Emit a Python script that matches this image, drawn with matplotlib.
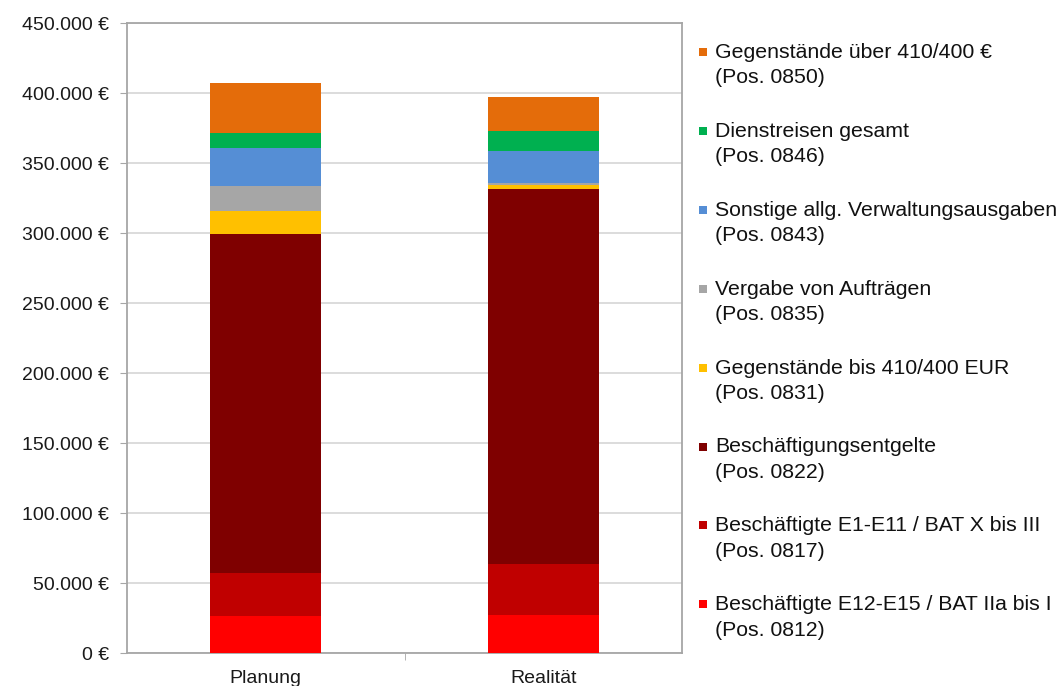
import matplotlib
matplotlib.use("Agg")
import matplotlib.pyplot as plt
from matplotlib.patches import Rectangle
from matplotlib.ticker import FuncFormatter, FixedLocator
import numpy as np

plt.rcParams['font.family'] = ['Liberation Sans', 'DejaVu Sans']

categories = ["Planung", "Realität"]

# cost positions, stacked bottom to top
pos_0812 = [26300, 27500]
pos_0817 = [31000, 36400]
pos_0822 = [241800, 267200]
pos_0831 = [16800, 3500]
pos_0835 = [18000, 1300]
pos_0843 = [26700, 23000]
pos_0846 = [11000, 13800]
pos_0850 = [35700, 24600]

series = [
    ("Beschäftigte E12-E15 / BAT IIa bis I\n(Pos. 0812)", pos_0812, "#FF0000"),
    ("Beschäftigte E1-E11 / BAT X bis III\n(Pos. 0817)", pos_0817, "#C00000"),
    ("Beschäftigungsentgelte\n(Pos. 0822)", pos_0822, "#7F0000"),
    ("Gegenstände bis 410/400 EUR\n(Pos. 0831)", pos_0831, "#FFC000"),
    ("Vergabe von Aufträgen\n(Pos. 0835)", pos_0835, "#A6A6A6"),
    ("Sonstige allg. Verwaltungsausgaben\n(Pos. 0843)", pos_0843, "#558ED5"),
    ("Dienstreisen gesamt\n(Pos. 0846)", pos_0846, "#00B050"),
    ("Gegenstände über 410/400 €\n(Pos. 0850)", pos_0850, "#E46C0A"),
]

fig = plt.figure(figsize=(10.62, 6.86), dpi=100)
ax = fig.add_axes([127 / 1062, 1 - 653 / 686, 555 / 1062, 630 / 686])

x = np.arange(len(categories))
bottom = np.zeros(len(categories))
for label, vals, color in series:
    ax.bar(x, vals, width=0.4, bottom=bottom, color=color, edgecolor="none", zorder=3)
    bottom += np.array(vals)

ax.set_xlim(-0.5, 1.5)
ax.set_ylim(0, 450000)
ax.set_yticks(np.arange(0, 450001, 50000))

def euro(v, pos):
    return f"{int(v):,} €".replace(",", ".")

ax.yaxis.set_major_formatter(FuncFormatter(euro))
ax.yaxis.grid(True, color="#D9D9D9", linewidth=1.3, zorder=0)

ax.set_xticks(x)
ax.set_xticklabels(categories)
ax.xaxis.set_minor_locator(FixedLocator([0.5]))
ax.tick_params(axis="x", which="major", length=0, pad=12, labelsize=14, labelcolor="#1a1a1a")
ax.tick_params(axis="x", which="minor", length=5, color="#A6A6A6", direction="out")
ax.tick_params(axis="y", length=5, color="#A6A6A6", pad=8, labelsize=14, labelcolor="#1a1a1a")

for s in ax.spines.values():
    s.set_color("#A6A6A6")
    s.set_linewidth(1.3)

# legend drawn by hand so the square sits beside the first line
top_y = 52
step = 78.9
for i, (label, vals, color) in enumerate(reversed(series)):
    yc = top_y + i * step
    fig.add_artist(Rectangle((699 / 1062, 1 - (yc + 4) / 686), 8 / 1062, 8 / 686,
                             transform=fig.transFigure, color=color, linewidth=0))
    fig.text(715 / 1062, 1 - (yc - 9) / 686, label, fontsize=15.3, color="#111111",
             va="top", ha="left", linespacing=1.42)

fig.savefig("out.png", dpi=100, facecolor="white")
